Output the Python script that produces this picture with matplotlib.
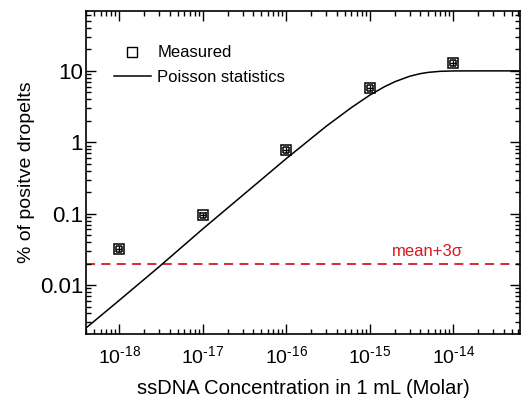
import numpy as np
import matplotlib.pyplot as plt

plt.rcParams['font.family'] = ['Liberation Sans', 'DejaVu Sans']
plt.rcParams['mathtext.fontset'] = 'custom'
plt.rcParams['mathtext.rm'] = 'Liberation Sans'
plt.rcParams['mathtext.it'] = 'Liberation Sans:italic'

# measured points
conc = [1e-18, 1e-17, 1e-16, 1e-15, 1e-14]
measured = [0.032, 0.095, 0.78, 5.8, 13.0]
meas_err = [0.003, 0.008, 0.08, 0.5, 1.2]
conc_err = [0.08e-18, 0.08e-17, 0.08e-16, 0.08e-15, 0.08e-14]

# Poisson statistics curve
curve_x = [4e-19, 1e-18, 3e-18, 1e-17, 3e-17, 1e-16, 3e-16, 6e-16, 1e-15, 1.5e-15,
           2e-15, 3e-15, 4e-15, 5e-15, 7e-15, 1e-14, 2e-14, 6.3e-14]
curve_y = [0.0025, 0.0061, 0.018, 0.061, 0.18, 0.59, 1.67, 3.05, 4.57, 6.0,
           7.05, 8.4, 9.13, 9.53, 9.86, 9.98, 10.0, 10.0]

threshold = 0.02
x_ticks = [1e-18, 1e-17, 1e-16, 1e-15, 1e-14]
x_labels = [r'$10^{\text{-18}}$', r'$10^{\text{-17}}$', r'$10^{\text{-16}}$',
            r'$10^{\text{-15}}$', r'$10^{\text{-14}}$']
y_ticks = [0.01, 0.1, 1, 10]
y_labels = ['0.01', '0.1', '1', '10']

fig = plt.figure(figsize=(5.21, 3.99), dpi=100)
ax = fig.add_axes([86/521, 1 - 334/399, 434/521, 323/399])

ax.plot(curve_x, curve_y, color='black', lw=1.1, label='Poisson statistics', zorder=2)
ax.axhline(threshold, color='#d7191c', lw=1.3, ls=(0, (5, 3.5)), zorder=1)
ax.errorbar(conc, measured, yerr=meas_err, xerr=conc_err, fmt='s', ms=6.5, mfc='none',
            mec='black', mew=1.1, ecolor='black', elinewidth=1.0, capsize=2.5, zorder=3)
h_meas, = ax.plot([], [], 's', ms=7, mfc='white', mec='black', mew=1.0, label='Measured')

ax.text(4.9e-15, 0.023, 'mean+3σ', color='#d7191c', fontsize=12, ha='center', va='bottom')

ax.set_xscale('log')
ax.set_yscale('log')
ax.set_xlim(4e-19, 6.3e-14)
ax.set_ylim(0.00206, 69)
ax.set_xticks(x_ticks)
ax.set_xticklabels(x_labels)
ax.set_yticks(y_ticks)
ax.set_yticklabels(y_labels)

ax.tick_params(which='both', direction='in', top=True, right=True, width=1.0)
ax.tick_params(which='major', length=7)
ax.tick_params(axis='y', labelsize=16, pad=2)
ax.tick_params(axis='x', which='major', pad=8, labelsize=14)
ax.tick_params(which='minor', length=3.5)
for s in ax.spines.values():
    s.set_linewidth(1.2)

ax.set_xlabel('ssDNA Concentration in 1 mL (Molar)', fontsize=14.5)
ax.set_ylabel('% of positve dropelts', fontsize=14)
ax.xaxis.set_label_coords(0.5, -0.14)
ax.yaxis.set_label_coords(-0.1175, 0.5)

handles = [h_meas, ax.lines[0]]
ax.legend(handles, ['Measured', 'Poisson statistics'], loc='upper left',
          bbox_to_anchor=(0.03, 0.94), frameon=False, fontsize=12,
          handlelength=2.2, handletextpad=0.4, labelspacing=0.55)

fig.savefig('out.png', dpi=100)
